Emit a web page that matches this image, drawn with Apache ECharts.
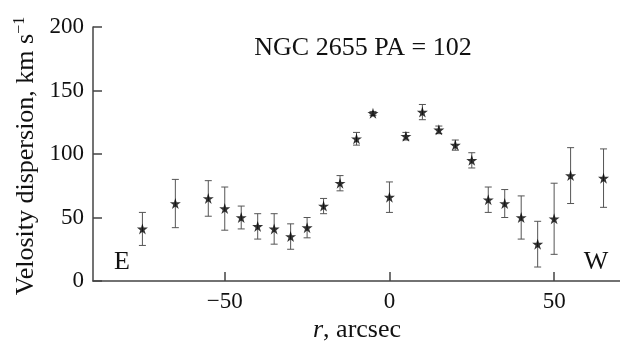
<!DOCTYPE html>
<html>
<head>
<meta charset="utf-8">
<script src="https://cdn.jsdelivr.net/npm/echarts@6/dist/echarts.min.js"></script>
<style>
html,body{margin:0;padding:0;background:#fff;}
#chart{width:620px;height:348px;}
</style>
</head>
<body>
<div id="chart"></div>
<script>
// Data
const rValues  = [-75, -65, -55, -50, -45, -40, -35, -30, -25, -20, -15, -10, -5, 0, 5, 10, 15, 20, 25, 30, 35, 40, 45, 50, 55, 65];
const sigma    = [41, 61, 65, 57, 50, 43, 41, 35, 42, 59, 77, 112, 132, 66, 114, 133, 119, 107, 95, 64, 61, 50, 29, 49, 83, 81];
const sigmaErr = [13, 19, 14, 17, 9, 10, 12, 10, 8, 6, 6, 5, 1.5, 12, 3, 6, 3, 4, 6, 10, 11, 17, 18, 28, 22, 23];
const xTicks = [-50, 0, 50];
const yTicks = [0, 50, 100, 150, 200];
const titleText = 'NGC 2655 PA = 102';

const FONT = '"Liberation Serif", "DejaVu Serif", serif';
const STAR = 'path://M50,0 L61.2,34.5 L97.6,34.5 L68.2,55.9 L79.4,90.5 L50,69.1 L20.6,90.5 L31.8,55.9 L2.4,34.5 L38.8,34.5 Z';

const points = rValues.map((r, i) => [r, sigma[i]]);
const bars = rValues.map((r, i) => [r, sigma[i] - sigmaErr[i], sigma[i] + sigmaErr[i]]);

const chart = echarts.init(document.getElementById('chart'), null, {renderer: 'canvas'});
chart.setOption({
  animation: false,
  backgroundColor: '#fff',
  grid: {left: 93, right: 0, top: 27, bottom: 67, containLabel: false},
  xAxis: {
    type: 'value', min: -90, max: 70,
    axisLine: {onZero: false, lineStyle: {color: '#444', width: 1.5}},
    axisTick: {inside: true, length: 9, customValues: xTicks, lineStyle: {color: '#444', width: 1.5}},
    axisLabel: {customValues: xTicks, margin: 9, color: '#111', fontFamily: FONT, fontSize: 23,
      formatter: v => String(v).replace('-', '\u2212')},
    splitLine: {show: false}
  },
  yAxis: {
    type: 'value', min: 0, max: 200, interval: 50,
    axisLine: {show: true, onZero: false, lineStyle: {color: '#444', width: 1.5}},
    axisTick: {inside: true, length: 9, lineStyle: {color: '#444', width: 1.5}},
    axisLabel: {margin: 9, color: '#111', fontFamily: FONT, fontSize: 23},
    splitLine: {show: false}
  },
  series: [
    {
      type: 'custom',
      data: bars,
      z: 2,
      renderItem: function (params, api) {
        const x = api.value(0);
        const lo = api.coord([x, api.value(1)]);
        const hi = api.coord([x, api.value(2)]);
        const hw = 3.5;
        const st = {stroke: '#555', lineWidth: 1};
        return {
          type: 'group',
          children: [
            {type: 'line', shape: {x1: lo[0], y1: lo[1], x2: hi[0], y2: hi[1]}, style: st},
            {type: 'line', shape: {x1: lo[0] - hw, y1: lo[1], x2: lo[0] + hw, y2: lo[1]}, style: st},
            {type: 'line', shape: {x1: hi[0] - hw, y1: hi[1], x2: hi[0] + hw, y2: hi[1]}, style: st}
          ]
        };
      }
    },
    {
      type: 'scatter',
      data: points,
      symbol: STAR,
      symbolSize: 11,
      z: 3,
      itemStyle: {color: '#000'}
    }
  ],
  graphic: [
    {type: 'text', x: 363, y: 48, style: {text: titleText, font: '26px ' + FONT, fill: '#111', align: 'center', verticalAlign: 'middle'}},
    {type: 'text', x: 122, y: 262, style: {text: 'E', font: '26px ' + FONT, fill: '#111', align: 'center', verticalAlign: 'middle'}},
    {type: 'text', x: 596, y: 262, style: {text: 'W', font: '26px ' + FONT, fill: '#111', align: 'center', verticalAlign: 'middle'}},
    {type: 'text', x: 357, y: 330, style: {
      text: '{i|r}{n|, arcsec}', align: 'center', verticalAlign: 'middle',
      rich: {
        i: {font: 'italic 26px ' + FONT, fill: '#111'},
        n: {font: '26px ' + FONT, fill: '#111'}
      }
    }},
    {type: 'text', x: 26, y: 156, rotation: Math.PI / 2, style: {
      text: '{n|Velosity dispersion, km s}{s|\u22121}', align: 'center', verticalAlign: 'middle',
      rich: {
        n: {font: '26px ' + FONT, fill: '#111'},
        s: {font: '16px ' + FONT, fill: '#111', verticalAlign: 'top', padding: [0, 0, 12, 0]}
      }
    }}
  ]
});
</script>
</body>
</html>
